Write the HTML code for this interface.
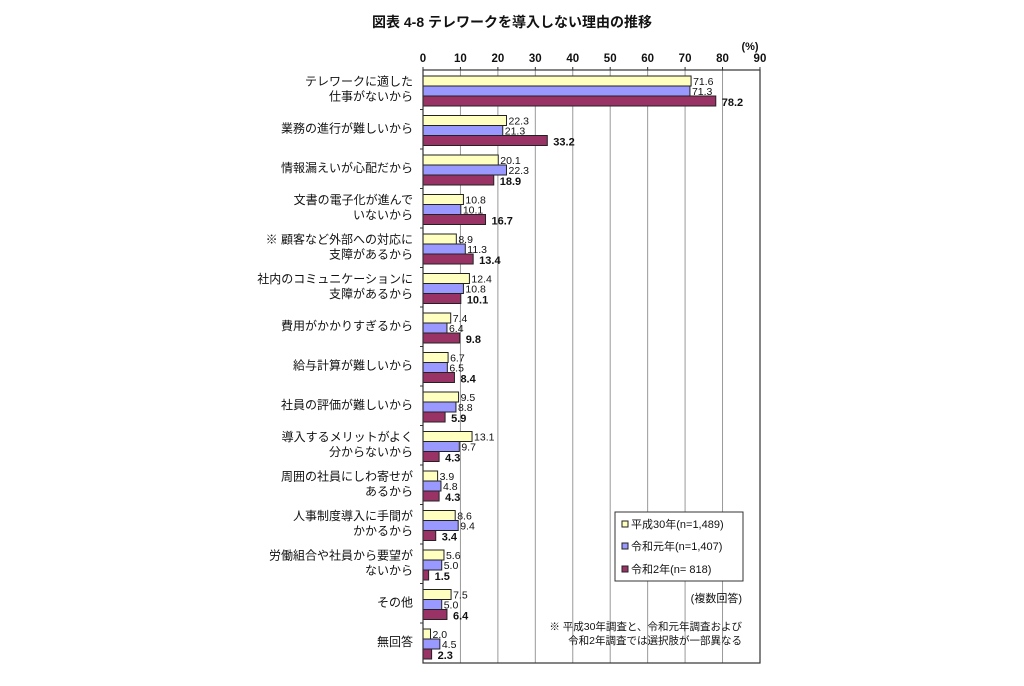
<!DOCTYPE html><html><head><meta charset="utf-8"><style>body{margin:0;background:#fff}</style></head><body>
<svg width="1024" height="681" xmlns="http://www.w3.org/2000/svg" font-family="Liberation Sans, Noto Sans CJK JP, sans-serif">
<text x="512" y="27" font-size="14" font-weight="bold" text-anchor="middle" fill="#111">図表 4-8  テレワークを導入しない理由の推移</text>
<g id="grid" stroke="#999" stroke-width="1"></g>
<g id="bars"></g>
<g id="labels" font-size="12" fill="#111" text-anchor="end"></g>
<rect x="423" y="70" width="337" height="593" fill="none" stroke="#333" stroke-width="1.2"/>
<text x="750" y="50" font-size="11" font-weight="bold" text-anchor="middle" fill="#111">(%)</text>
<rect x="615" y="512" width="128" height="69" fill="#fff" stroke="#333"/>
<rect x="622" y="521" width="6" height="6" fill="#ffffc0" stroke="#222"/><text x="631" y="528" font-size="11" fill="#111">平成30年(n=1,489)</text>
<rect x="622" y="543" width="6" height="6" fill="#9999ff" stroke="#222"/><text x="631" y="550" font-size="11" fill="#111">令和元年(n=1,407)</text>
<rect x="622" y="566" width="6" height="6" fill="#993366" stroke="#222"/><text x="631" y="573" font-size="11" fill="#111">令和2年(n=   818)</text>
<text x="742" y="602" font-size="11" text-anchor="end" fill="#111">(複数回答)</text>
<text x="742" y="630" font-size="10.5" text-anchor="end" fill="#111">※ 平成30年調査と、令和元年調査および</text>
<text x="742" y="644" font-size="10.5" text-anchor="end" fill="#111">令和2年調査では選択肢が一部異なる</text>
</svg>
<script>
const ns="http://www.w3.org/2000/svg";const svg=document.querySelector('svg');
function el(p,t,a,txt){const e=document.createElementNS(ns,t);for(const k in a)e.setAttribute(k,a[k]);if(txt!=null)e.textContent=txt;p.appendChild(e);return e;}
const g=svg.querySelector('#grid'),b=svg.querySelector('#bars'),L=svg.querySelector('#labels');
const x0=423,s=3.744;
for(let i=0;i<=9;i++){const x=x0+i*10*s;if(i>0&&i<9)el(g,'line',{x1:x,x2:x,y1:70,y2:663});el(svg,'text',{x:x,y:62,'font-size':11.5,'font-weight':'bold','text-anchor':'middle',fill:'#111'},String(i*10));el(g,'line',{x1:x,x2:x,y1:67,y2:70,stroke:'#333'});}
const d=[["テレワークに適した|仕事がないから",71.6,71.3,78.2],["業務の進行が難しいから",22.3,21.3,33.2],["情報漏えいが心配だから",20.1,22.3,18.9],["文書の電子化が進んで|いないから",10.8,10.1,16.7],["※ 顧客など外部への対応に|支障があるから",8.9,11.3,13.4],["社内のコミュニケーションに|支障があるから",12.4,10.8,10.1],["費用がかかりすぎるから",7.4,6.4,9.8],["給与計算が難しいから",6.7,6.5,8.4],["社員の評価が難しいから",9.5,8.8,5.9],["導入するメリットがよく|分からないから",13.1,9.7,4.3],["周囲の社員にしわ寄せが|あるから",3.9,4.8,4.3],["人事制度導入に手間が|かかるから",8.6,9.4,3.4],["労働組合や社員から要望が|ないから",5.6,5.0,1.5],["その他",7.5,5.0,6.4],["無回答",2.0,4.5,2.3]];
const cols=["#ffffc0","#9999ff","#993366"];const P=39.5;
d.forEach((r,i)=>{const gt=70+i*P;
 if(i>0)el(g,'line',{x1:420,x2:423,y1:gt,y2:gt,stroke:'#333'});
 for(let j=0;j<3;j++){const y=gt+6+j*10,w=r[j+1]*s;el(b,'rect',{x:x0,y:y,width:w,height:10,fill:cols[j],stroke:'#222','stroke-width':1});
  el(b,'text',{x:x0+w+(j==2?6:2),y:y+(j==2?10:9),'font-size':j==2?11:10.5,'font-weight':j==2?'bold':'normal',fill:'#111'},r[j+1].toFixed(1));}
 const ls=r[0].split('|');const cy=gt+6+15;
 ls.forEach((t,k)=>el(L,'text',{x:413,y:cy+2+(k-(ls.length-1)/2)*15},t));
});
</script>
</body></html>
